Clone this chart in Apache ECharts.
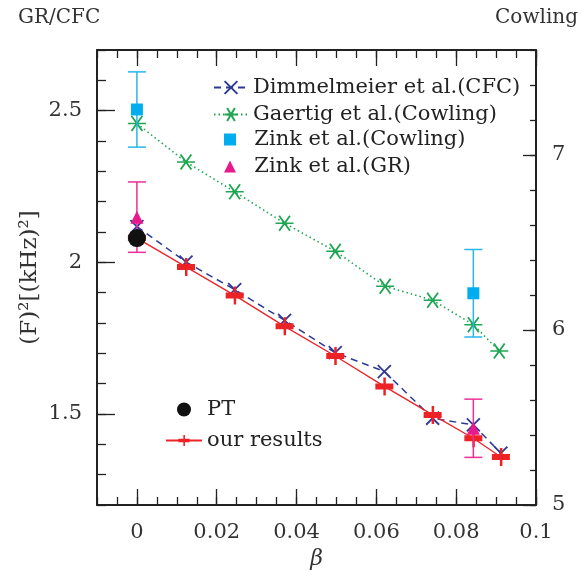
<!DOCTYPE html>
<html>
<head>
<meta charset="utf-8">
<script src="https://cdn.jsdelivr.net/npm/echarts@6/dist/echarts.min.js"></script>
<style>
  html, body { margin: 0; padding: 0; background: #fff; }
  #chart { width: 582px; height: 571px; }
</style>
</head>
<body>
<div id="chart"></div>
<script>
// values
const beta = [0, 0.0123, 0.0245, 0.037, 0.0497, 0.062, 0.0741, 0.0843, 0.0912]
const dimmelmeier = [2.118, 2.001, 1.910, 1.809, 1.702, 1.640, 1.486, 1.464, 1.371]
const ourResults = [2.080, 1.985, 1.891, 1.789, 1.691, 1.591, 1.497, 1.420, 1.358]
const gaertigBeta = [0, 0.0123, 0.0245, 0.037, 0.0497, 0.0622, 0.0741, 0.0843, 0.0908]
const gaertig = [7.18, 6.96, 6.79, 6.61, 6.45, 6.25, 6.17, 6.03, 5.88]
const zinkBeta = [0, 0.0843]
const zinkCowling = [7.26, 6.21]
const zinkCowlingErr = [0.215, 0.25]
const zinkGR = [2.149, 1.453]
const zinkGRErr = [0.116, 0.096]
const ptBeta = [0]
const pt = [2.08]

const xMajor = [0, 0.02, 0.04, 0.06, 0.08, 0.1]
const leftMajor = [1.5, 2, 2.5]
const rightMajor = [5, 6, 7]

const names = {
  dim: 'Dimmelmeier et al.(CFC)',
  gae: 'Gaertig et al.(Cowling)',
  zc: 'Zink et al.(Cowling)',
  zg: 'Zink et al.(GR)',
  pt: 'PT',
  our: 'our results',
}

const serif = 'DejaVu Serif'
const textColor = '#333'
const axisColor = '#222'

const zip = (xs, ys) => xs.map((x, i) => [x, ys[i]])
const errData = (xs, ys, es) => xs.map((x, i) => [x, ys[i] - es[i], ys[i] + es[i]])

const errorBars = (color) => (params, api) => {
  const lo = api.coord([api.value(0), api.value(1)])
  const hi = api.coord([api.value(0), api.value(2)])
  const w = 9
  const style = { stroke: color, lineWidth: 1.5 }
  return {
    type: 'group',
    children: [
      { type: 'line', shape: { x1: lo[0], y1: lo[1], x2: hi[0], y2: hi[1] }, style },
      { type: 'line', shape: { x1: lo[0] - w, y1: lo[1], x2: lo[0] + w, y2: lo[1] }, style },
      { type: 'line', shape: { x1: hi[0] - w, y1: hi[1], x2: hi[0] + w, y2: hi[1] }, style },
    ],
  }
}

const baseX = { type: 'value', min: -0.01, max: 0.1, splitLine: { show: false } }
const tickStyle = { color: axisColor, width: 1.3 }
const legendText = { fontFamily: serif, fontSize: 21, lineHeight: 20, color: '#222' }

const option = {
  animation: false,
  grid: { left: 97, right: 46, top: 50, bottom: 66, outerBoundsMode: 'none', containLabel: false },
  xAxis: [
    {
      ...baseX, position: 'bottom', interval: 0.005,
      axisLine: { show: true, onZero: false, lineStyle: { color: axisColor, width: 2 } },
      axisTick: { inside: true, length: 8, lineStyle: tickStyle },
      axisLabel: { show: false },
      name: 'β', nameLocation: 'middle', nameGap: 43,
      nameTextStyle: { fontFamily: serif, fontStyle: 'italic', fontSize: 22, color: textColor },
    },
    {
      ...baseX, position: 'bottom', interval: 0.02,
      axisLine: { show: false, onZero: false },
      axisTick: { inside: true, length: 16, customValues: xMajor, lineStyle: tickStyle },
      axisLabel: { customValues: xMajor, margin: 17, fontFamily: serif, fontSize: 21, color: textColor },
    },
    {
      ...baseX, position: 'top', interval: 0.005,
      axisLine: { show: true, onZero: false, lineStyle: { color: axisColor, width: 2 } },
      axisTick: { inside: true, length: 8, lineStyle: tickStyle },
      axisLabel: { show: false },
    },
    {
      ...baseX, position: 'top', interval: 0.02,
      axisLine: { show: false, onZero: false },
      axisTick: { inside: true, length: 16, customValues: xMajor, lineStyle: tickStyle },
      axisLabel: { show: false },
    },
  ],
  yAxis: [
    {
      type: 'value', position: 'left', min: 1.2, max: 2.7, interval: 0.1,
      splitLine: { show: false },
      axisLine: { show: true, onZero: false, lineStyle: { color: axisColor, width: 2 } },
      axisTick: { inside: true, length: 9, lineStyle: tickStyle },
      axisLabel: { show: false },
      name: '(F)²[(kHz)²]', nameLocation: 'middle', nameGap: 55, nameRotate: 90,
      nameTextStyle: { fontFamily: serif, fontSize: 23, color: textColor },
    },
    {
      type: 'value', position: 'left', min: 1.2, max: 2.7, interval: 0.5,
      splitLine: { show: false },
      axisLine: { show: false, onZero: false },
      axisTick: { inside: true, length: 18, customValues: leftMajor, lineStyle: tickStyle },
      axisLabel: { customValues: leftMajor, margin: 15, fontFamily: serif, fontSize: 21, color: textColor },
    },
    {
      type: 'value', position: 'right', min: 5, max: 7.6, interval: 0.2,
      splitLine: { show: false },
      axisLine: { show: true, onZero: false, lineStyle: { color: axisColor, width: 2 } },
      axisTick: { inside: true, length: 6, lineStyle: tickStyle },
      axisLabel: { show: false },
    },
    {
      type: 'value', position: 'right', min: 5, max: 7.6, interval: 1,
      splitLine: { show: false },
      axisLine: { show: false, onZero: false },
      axisTick: { inside: true, length: 13, customValues: rightMajor, lineStyle: tickStyle },
      axisLabel: { customValues: rightMajor, margin: 16, fontFamily: serif, fontSize: 21, color: textColor },
    },
  ],
  legend: [
    {
      orient: 'vertical', left: 208, top: 72, itemWidth: 34, itemHeight: 16, itemGap: 6,
      data: [names.dim, names.gae],
      textStyle: legendText,
    },
    {
      // square / triangle keep their own size; the leading spaces line the text up
      orient: 'vertical', left: 219, top: 124, itemWidth: 12, itemHeight: 12, itemGap: 6,
      data: [names.zc, names.zg],
      formatter: (name) => '  ' + name,
      textStyle: legendText,
    },
    {
      orient: 'vertical', left: 160, top: 394, itemWidth: 36, itemHeight: 14, itemGap: 10,
      data: [names.pt, names.our],
      textStyle: legendText,
    },
  ],
  graphic: [
    { type: 'text', left: 18, top: 8, style: { text: 'GR/CFC', font: '20px "DejaVu Serif"', fill: textColor } },
    { type: 'text', right: 4, top: 8, style: { text: 'Cowling', font: '20px "DejaVu Serif"', fill: textColor } },
  ],
  series: [
    {
      name: names.gae, type: 'line', xAxisIndex: 0, yAxisIndex: 2,
      data: zip(gaertigBeta, gaertig),
      symbol: 'path://M4,0L16,16M16,0L4,16M0,8L20,8', symbolSize: [18, 15],
      itemStyle: { color: '#1fa653', borderColor: '#1fa653', borderWidth: 1.6 },
      lineStyle: { color: '#1fa653', width: 1.6, type: [1.5, 3] },
      z: 2,
    },
    {
      name: 'zc-err', type: 'custom', xAxisIndex: 0, yAxisIndex: 2,
      data: errData(zinkBeta, zinkCowling, zinkCowlingErr),
      renderItem: errorBars('#29b6e8'), encode: { x: 0, y: [1, 2] }, z: 3,
    },
    {
      name: names.zc, type: 'scatter', xAxisIndex: 0, yAxisIndex: 2,
      data: zip(zinkBeta, zinkCowling),
      symbol: 'rect', symbolSize: 12, itemStyle: { color: '#00aeef', opacity: 1 }, z: 4,
    },
    {
      name: names.dim, type: 'line', xAxisIndex: 0, yAxisIndex: 0,
      data: zip(beta, dimmelmeier),
      symbol: 'path://M0,0L10,10M10,0L0,10', symbolSize: 13,
      itemStyle: { color: '#2e3a94', borderColor: '#2e3a94', borderWidth: 1.8 },
      lineStyle: { color: '#2e3a94', width: 1.5, type: [7, 5] },
      z: 3,
    },
    {
      name: names.our, type: 'line', xAxisIndex: 0, yAxisIndex: 0,
      data: zip(beta, ourResults),
      symbol: 'path://M0,6H18V12H0ZM8,0H10.5V18H8Z', symbolSize: [18, 18],
      itemStyle: { color: '#ed2226', borderWidth: 0 },
      lineStyle: { color: '#ed2226', width: 1.3 },
      z: 4,
    },
    {
      name: 'zg-err', type: 'custom', xAxisIndex: 0, yAxisIndex: 0,
      data: errData(zinkBeta, zinkGR, zinkGRErr),
      renderItem: errorBars('#ec2f95'), encode: { x: 0, y: [1, 2] }, z: 5,
    },
    {
      name: names.zg, type: 'scatter', xAxisIndex: 0, yAxisIndex: 0,
      data: zip(zinkBeta, zinkGR),
      symbol: 'triangle', symbolSize: 13, itemStyle: { color: '#e8198b', opacity: 1 }, z: 6,
    },
    {
      name: names.pt, type: 'scatter', xAxisIndex: 0, yAxisIndex: 0,
      data: zip(ptBeta, pt),
      symbol: 'circle', symbolSize: 18, itemStyle: { color: '#111', opacity: 1 }, z: 6,
    },
  ],
}

const chart = echarts.init(document.getElementById('chart'))
chart.setOption(option)
</script>
</body>
</html>
